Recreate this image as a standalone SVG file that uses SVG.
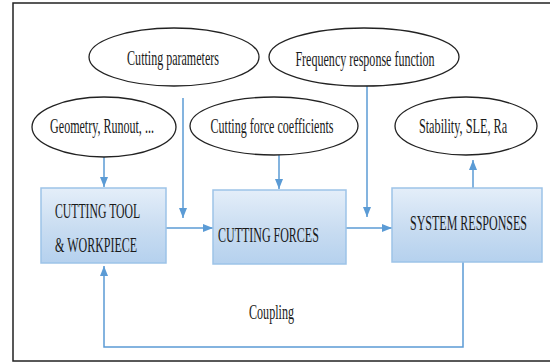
<svg xmlns="http://www.w3.org/2000/svg" width="550" height="363" viewBox="0 0 550 363">
<defs>
<linearGradient id="boxg" x1="0" y1="0" x2="0" y2="1">
<stop offset="0" stop-color="#e4eef9"/>
<stop offset="0.55" stop-color="#c8dcf1"/>
<stop offset="1" stop-color="#b5d1ee"/>
</linearGradient>
<marker id="ah" markerUnits="userSpaceOnUse" markerWidth="10" markerHeight="8" refX="10" refY="4" orient="auto">
<path d="M0,0 L10,4 L0,8 z" fill="#5b9bd5"/>
</marker>
<style>
.ell{fill:#fff;stroke:#222;stroke-width:1.3}
.box{fill:url(#boxg);stroke:#9dc3e8;stroke-width:1.5}
.t{font-family:"Liberation Serif","Times New Roman",serif;font-size:22px;fill:#1a1a1a}
.c{text-anchor:middle}
.con{fill:none;stroke:#5b9bd5;stroke-width:1.5}
</style>
</defs>
<rect x="13" y="3" width="560" height="358" fill="#fff" stroke="#222" stroke-width="1.5"/>
<g id="connectors">
<line class="con" x1="104" y1="157" x2="104" y2="187" marker-end="url(#ah)"/>
<line class="con" x1="183" y1="98" x2="183" y2="218" marker-end="url(#ah)"/>
<line class="con" x1="279" y1="155" x2="279" y2="189" marker-end="url(#ah)"/>
<line class="con" x1="367" y1="86" x2="367" y2="217" marker-end="url(#ah)"/>
<line class="con" x1="473" y1="188" x2="473" y2="160" marker-end="url(#ah)"/>
<line class="con" x1="166" y1="228" x2="213" y2="228" marker-end="url(#ah)"/>
<line class="con" x1="346" y1="228" x2="392" y2="228" marker-end="url(#ah)"/>
<polyline class="con" points="463,262 463,347 104,347 104,266" marker-end="url(#ah)"/>
</g>
<g id="cutting-parameters">
<ellipse class="ell" cx="174" cy="57" rx="85" ry="29"/>
<text class="t c" transform="translate(173,65) scale(0.6,1)" textLength="153" lengthAdjust="spacingAndGlyphs">Cutting parameters</text>
</g>
<g id="frequency-response">
<ellipse class="ell" cx="364" cy="57" rx="95" ry="29"/>
<text class="t c" transform="translate(365,66) scale(0.6,1)" textLength="232" lengthAdjust="spacingAndGlyphs">Frequency response function</text>
</g>
<g id="geometry">
<ellipse class="ell" cx="104" cy="127" rx="72" ry="30"/>
<text class="t c" transform="translate(102,133) scale(0.6,1)" textLength="173" lengthAdjust="spacingAndGlyphs">Geometry, Runout, ...</text>
</g>
<g id="force-coefficients">
<ellipse class="ell" cx="274" cy="126" rx="84" ry="29"/>
<text class="t c" transform="translate(272,133) scale(0.6,1)" textLength="205" lengthAdjust="spacingAndGlyphs">Cutting force coefficients</text>
</g>
<g id="stability">
<ellipse class="ell" cx="466" cy="126" rx="71" ry="29"/>
<text class="t c" transform="translate(463,133) scale(0.6,1)" textLength="147" lengthAdjust="spacingAndGlyphs">Stability, SLE, Ra</text>
</g>
<g id="cutting-tool">
<rect class="box" x="41" y="188" width="125" height="75"/>
<text class="t" transform="translate(55,218) scale(0.6,1)" textLength="142" lengthAdjust="spacingAndGlyphs">CUTTING TOOL</text>
<text class="t" transform="translate(55,252) scale(0.6,1)" textLength="137" lengthAdjust="spacingAndGlyphs">&amp; WORKPIECE</text>
</g>
<g id="cutting-forces">
<rect class="box" x="213" y="190" width="133" height="74"/>
<text class="t" transform="translate(218,242) scale(0.6,1)" textLength="168" lengthAdjust="spacingAndGlyphs">CUTTING FORCES</text>
</g>
<g id="system-responses">
<rect class="box" x="392" y="188" width="150" height="74"/>
<text class="t" transform="translate(410,230) scale(0.6,1)" textLength="195" lengthAdjust="spacingAndGlyphs">SYSTEM RESPONSES</text>
</g>
<text class="t" transform="translate(249,319) scale(0.6,1)" textLength="75" lengthAdjust="spacingAndGlyphs">Coupling</text>
</svg>
